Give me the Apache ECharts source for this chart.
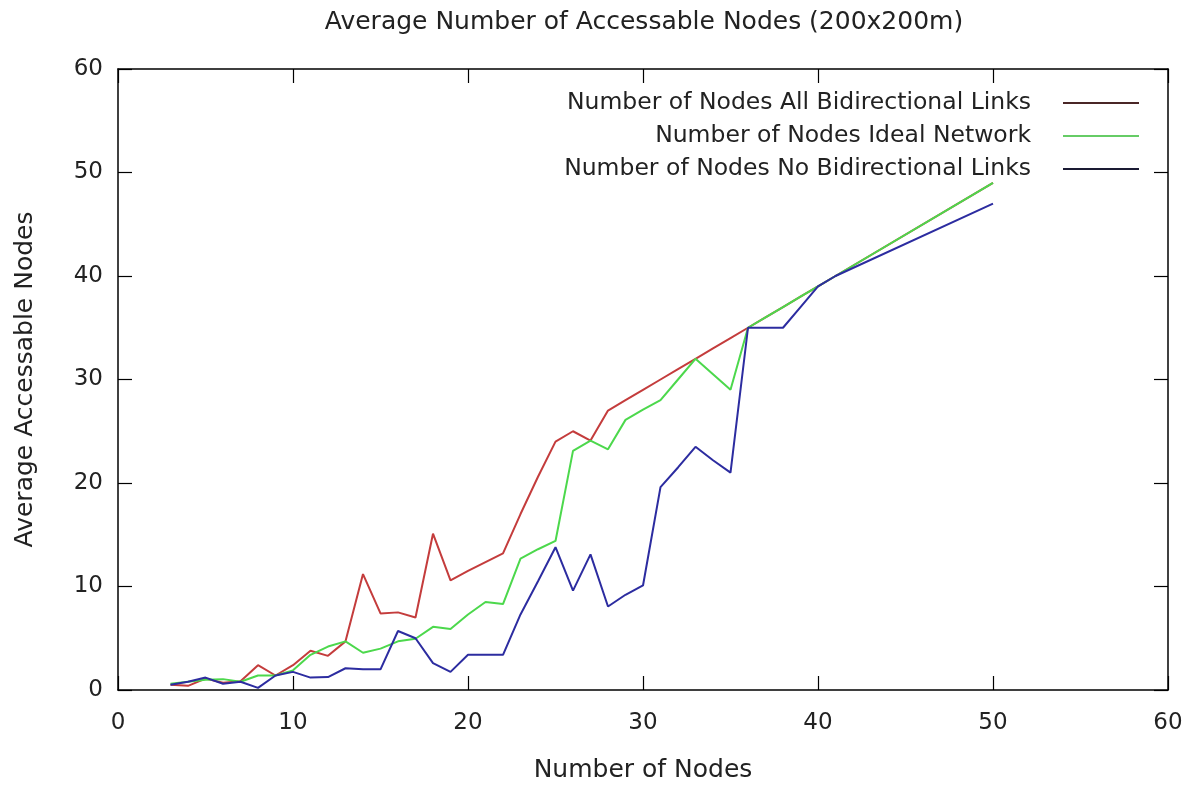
<!DOCTYPE html>
<html>
<head>
<meta charset="utf-8">
<title>Average Number of Accessable Nodes</title>
<script src="https://cdn.jsdelivr.net/npm/echarts@6/dist/echarts.min.js"></script>
<style>
  html, body { margin: 0; padding: 0; background: #fff; }
  #chart { width: 1200px; height: 794px; }
</style>
</head>
<body>
<div id="chart"></div>
<script>
// x values (number of nodes)
var nodes = [3, 4, 5, 6, 7, 8, 9, 10, 11, 12, 13, 14, 15, 16, 17, 18, 19, 20, 21, 22,
  23, 24, 25, 26, 27, 28, 29, 30, 31, 32, 33, 34, 35, 36, 37, 38, 39, 40, 41, 50];

var allBidirectional = [0.5, 0.4, 1.1, 0.7, 0.85, 2.4, 1.4, 2.4, 3.8, 3.3, 4.7, 11.2, 7.4, 7.5, 7.0, 15.1, 10.6, 11.5, 12.35, 13.2,
  17.0, 20.6, 24.0, 25.0, 24.1, 27.0, 28, 29, 30, 31, 32, 33, 34, 35, 36, 37, 38, 39, 40, 49];
var idealNetwork = [0.6, 0.8, 1.0, 1.05, 0.8, 1.4, 1.4, 1.9, 3.4, 4.2, 4.7, 3.6, 4.0, 4.7, 4.95, 6.1, 5.9, 7.3, 8.5, 8.3,
  12.7, 13.6, 14.4, 23.1, 24.1, 23.25, 26.1, 27.1, 28.0, 30, 32, 30.5, 29, 35, 36, 37, 38, 39, 40, 49];
var noBidirectional = [0.5, 0.8, 1.2, 0.6, 0.8, 0.2, 1.4, 1.75, 1.2, 1.25, 2.1, 2.0, 2.0, 5.7, 5.0, 2.6, 1.75, 3.4, 3.4, 3.4,
  7.3, 10.5, 13.8, 9.6, 13.1, 8.07, 9.2, 10.1, 19.6, 21.5, 23.5, 22.2, 21, 35, 35, 35, 37, 39, 40, 47];

var seriesNames = ['Number of Nodes All Bidirectional Links', 'Number of Nodes Ideal Network', 'Number of Nodes No Bidirectional Links'];
var seriesValues = [allBidirectional, idealNetwork, noBidirectional];
var lineColors = ['#c43c3c', '#4cd84c', '#2c2ca0'];
var legendColors = ['#4a2626', '#66cc66', '#1a1a33'];

var FONT = 'DejaVu Sans';
var TXT = '#222';

function pairs(vals) {
  var out = [];
  for (var i = 0; i < nodes.length; i++) out.push([nodes[i], vals[i]]);
  return out;
}

// gnuplot style frame: ticks inside, mirrored on top/right
function frameAxis(extra) {
  var base = {
    type: 'value', min: 0, max: 60, interval: 10,
    axisLine: { show: true, onZero: false, lineStyle: { color: '#000', width: 1.5 } },
    axisTick: { show: true, inside: true, length: 14, lineStyle: { color: '#000', width: 1.2 } },
    splitLine: { show: false },
    axisLabel: { show: false }
  };
  for (var k in extra) base[k] = extra[k];
  return base;
}

var chart = echarts.init(document.getElementById('chart'));
chart.setOption({
  backgroundColor: '#fff',
  animation: false,
  title: {
    text: 'Average Number of Accessable Nodes (200x200m)',
    left: 639, top: 5, textAlign: 'center',
    textStyle: { fontFamily: FONT, fontSize: 25, fontWeight: 'normal', color: TXT }
  },
  legend: {
    orient: 'vertical',
    right: 56, top: 86,
    align: 'right',
    icon: 'rect',
    itemWidth: 76, itemHeight: 2, itemGap: 9,
    textStyle: { fontFamily: FONT, fontSize: 23.5, color: TXT, padding: [0, 27, 0, 0] },
    data: seriesNames.map(function(n, i) {
      return { name: n, itemStyle: { color: legendColors[i] } };
    })
  },
  grid: { left: 118, right: 32, top: 69, bottom: 104 },
  xAxis: [
    frameAxis({
      position: 'bottom',
      name: 'Number of Nodes', nameLocation: 'middle', nameGap: 68,
      nameTextStyle: { fontFamily: FONT, fontSize: 25, color: TXT },
      axisLabel: { show: true, margin: 22, fontFamily: FONT, fontSize: 23, color: TXT }
    }),
    frameAxis({ position: 'top' })
  ],
  yAxis: [
    frameAxis({
      position: 'left',
      name: 'Average Accessable Nodes', nameLocation: 'middle', nameGap: 80,
      nameTextStyle: { fontFamily: FONT, fontSize: 25, color: TXT },
      axisLabel: { show: true, margin: 15, fontFamily: FONT, fontSize: 23, color: TXT }
    }),
    frameAxis({ position: 'right' })
  ],
  series: seriesNames.map(function(n, i) {
    return {
      name: n, type: 'line', xAxisIndex: 0, yAxisIndex: 0,
      data: pairs(seriesValues[i]),
      symbol: 'none',
      lineStyle: { color: lineColors[i], width: 2 },
      itemStyle: { color: lineColors[i] }
    };
  })
});
</script>
</body>
</html>
